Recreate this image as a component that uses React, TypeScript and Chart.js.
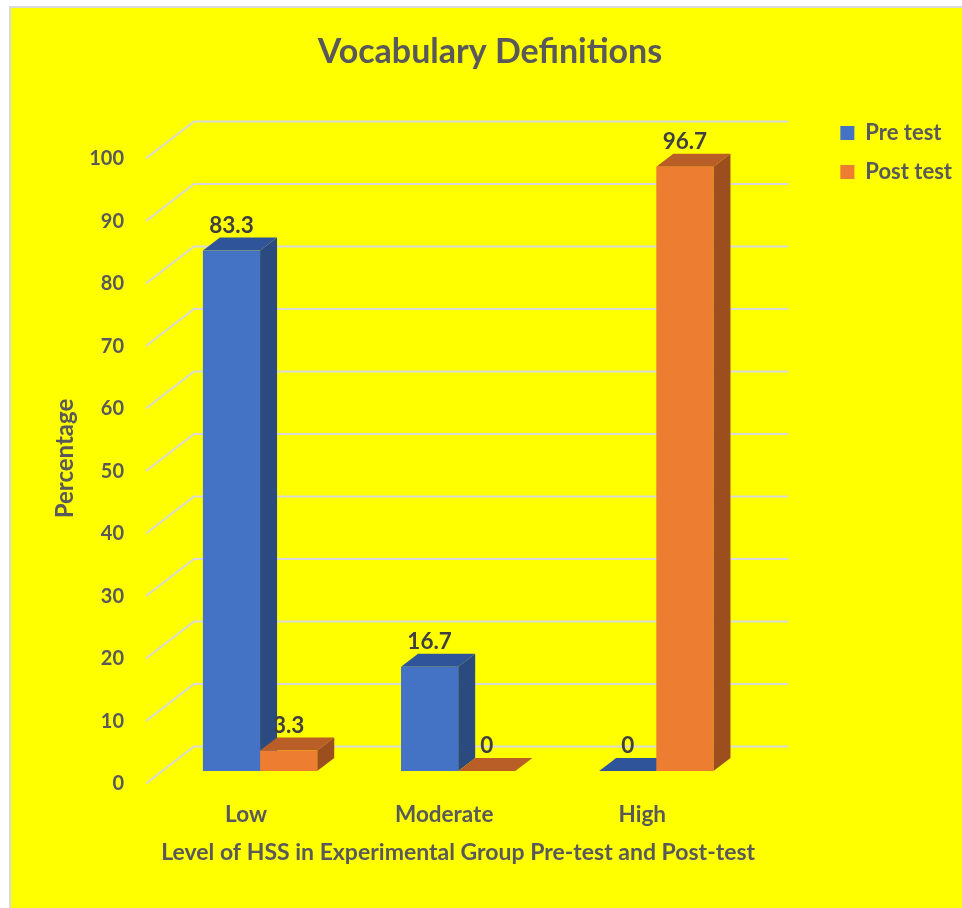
import { useEffect, useRef } from 'react';
import { Chart, registerables } from 'chart.js';

Chart.register(...registerables);

const categories = ['Low', 'Moderate', 'High'];
const seriesNames = ['Pre test', 'Post test'];
const preTest = [83.3, 16.7, 0];
const postTest = [3.3, 0, 96.7];
const chartTitle = 'Vocabulary Definitions';
const xTitle = 'Level of HSS in Experimental Group Pre-test and Post-test';
const yTitle = 'Percentage';
const yMin = 0;
const yMax = 100;
const yStep = 10;

const FONT = "Lato, 'Open Sans', sans-serif";
const TEXT = '#595959';
const LABEL = '#404040';
const FRONT_COLORS = ['#4472C4', '#ED7D31'];
const TOP_COLORS = ['#30549A', '#B85E26'];
const SIDE_COLORS = ['#2B4A80', '#9C4E1F'];
const DEPTH = { x: 17, y: -13 };
const FRONT = { x: -15, y: 12.5 };
const BACK = { x: 33, y: -24.5 };

const bgPlugin = {
  id: 'bg',
  beforeDraw(chart: any) {
    const { ctx, width, height } = chart;
    ctx.save();
    ctx.fillStyle = '#FFFFFF';
    ctx.fillRect(0, 0, width, height);
    ctx.fillStyle = '#D9D9D9';
    ctx.fillRect(9, 6, width - 9, height - 6);
    ctx.fillStyle = '#FFFF00';
    ctx.fillRect(11, 8, width - 11, height - 8);
    ctx.restore();
  },
};

function poly(ctx: CanvasRenderingContext2D, pts: number[][]) {
  ctx.beginPath();
  ctx.moveTo(pts[0][0], pts[0][1]);
  for (let i = 1; i < pts.length; i++) ctx.lineTo(pts[i][0], pts[i][1]);
  ctx.closePath();
  ctx.fill();
}

const threeDPlugin = {
  id: 'threeD',
  beforeDatasetsDraw(chart: any) {
    const { ctx, chartArea, scales } = chart;
    const ys = scales.y;
    ctx.save();
    ctx.strokeStyle = '#D9D9D9';
    ctx.lineWidth = 2;
    for (let v = yMin; v <= yMax; v += yStep) {
      const py = ys.getPixelForValue(v);
      ctx.beginPath();
      ctx.moveTo(chartArea.left + FRONT.x, py + FRONT.y);
      ctx.lineTo(chartArea.left + BACK.x, py + BACK.y);
      ctx.lineTo(chartArea.right + BACK.x, py + BACK.y);
      ctx.stroke();
    }
    const metas = chart.data.datasets.map((_: any, i: number) => chart.getDatasetMeta(i));
    for (let j = 0; j < categories.length; j++) {
      metas.forEach((meta: any, i: number) => {
        const bar = meta.data[j];
        const { x, y, base, width } = bar.getProps(['x', 'y', 'base', 'width'], true);
        const l = x - width / 2;
        const r = x + width / 2;
        ctx.fillStyle = SIDE_COLORS[i];
        poly(ctx, [[r, y], [r + DEPTH.x, y + DEPTH.y], [r + DEPTH.x, base + DEPTH.y], [r, base]]);
        ctx.fillStyle = TOP_COLORS[i];
        poly(ctx, [[l, y], [l + DEPTH.x, y + DEPTH.y], [r + DEPTH.x, y + DEPTH.y], [r, y]]);
      });
    }
    ctx.restore();
  },
  afterDatasetsDraw(chart: any) {
    const { ctx } = chart;
    ctx.save();
    ctx.font = `bold 22.5px ${FONT}`;
    ctx.fillStyle = LABEL;
    ctx.textAlign = 'center';
    ctx.textBaseline = 'middle';
    chart.data.datasets.forEach((ds: any, i: number) => {
      const meta = chart.getDatasetMeta(i);
      meta.data.forEach((bar: any, j: number) => {
        const { x, y } = bar.getProps(['x', 'y'], true);
        ctx.fillText(String(ds.data[j]), x, y - 25);
      });
    });
    ctx.restore();
  },
};

export default function App() {
  const ref = useRef<HTMLCanvasElement>(null);
  useEffect(() => {
    if (!ref.current) return;
    const chart = new Chart(ref.current, {
      type: 'bar',
      data: {
        labels: categories,
        datasets: [
          { label: seriesNames[0], data: preTest, backgroundColor: FRONT_COLORS[0], borderWidth: 0, categoryPercentage: 0.577, barPercentage: 1 },
          { label: seriesNames[1], data: postTest, backgroundColor: FRONT_COLORS[1], borderWidth: 0, categoryPercentage: 0.577, barPercentage: 1 },
        ],
      },
      options: {
        responsive: false,
        animation: false,
        events: [],
        devicePixelRatio: 1,
        layout: { padding: { left: 18, right: 0, top: 0, bottom: 41.2 } },
        scales: {
          x: {
            grid: { display: false, drawTicks: false },
            border: { display: false },
            ticks: { color: TEXT, font: { family: FONT, size: 22.5, weight: 'bold' }, padding: 30, labelOffset: -14, maxRotation: 0, autoSkip: false },
            title: { display: true, text: xTitle, color: TEXT, font: { family: FONT, size: 23, weight: 'bold' }, padding: { top: 0, bottom: 0 } },
            afterFit: (s: any) => { s.height = 95.8; },
          },
          y: {
            min: yMin,
            max: yMax,
            grid: { display: false, drawTicks: false },
            border: { display: false },
            ticks: { stepSize: yStep, color: TEXT, font: { family: FONT, size: 20, weight: 'bold' }, padding: 37, labelOffset: 13 },
            title: { display: true, text: yTitle, color: TEXT, font: { family: FONT, size: 24, weight: 'bold' }, padding: { top: 32.6, bottom: 0 } },
            afterFit: (s: any) => { s.width = 143; },
          },
          yR: {
            position: 'right',
            display: true,
            grid: { display: false, drawTicks: false },
            border: { display: false },
            ticks: { display: false },
            afterFit: (s: any) => { s.width = 68; },
          },
        },
        plugins: {
          title: {
            display: true,
            text: chartTitle,
            color: TEXT,
            font: { family: FONT, size: 34, weight: 'bold' },
            padding: { top: 31.6, bottom: 73.6 },
          },
          legend: {
            position: 'right',
            align: 'start',
            title: { display: true, text: ' ', font: { size: 12 }, padding: { top: 90.6, bottom: 0 } },
            labels: { boxWidth: 14, boxHeight: 14, padding: 17, color: TEXT, font: { family: FONT, size: 22, weight: 'bold' } },
          },
          tooltip: { enabled: false },
        },
      },
      plugins: [bgPlugin, threeDPlugin],
    } as any);
    return () => chart.destroy();
  }, []);
  return (
    <div style={{ position: 'fixed', left: 0, top: 0, width: 962, height: 908 }}>
      <canvas ref={ref} width={962} height={908} style={{ display: 'block' }} />
    </div>
  );
}
